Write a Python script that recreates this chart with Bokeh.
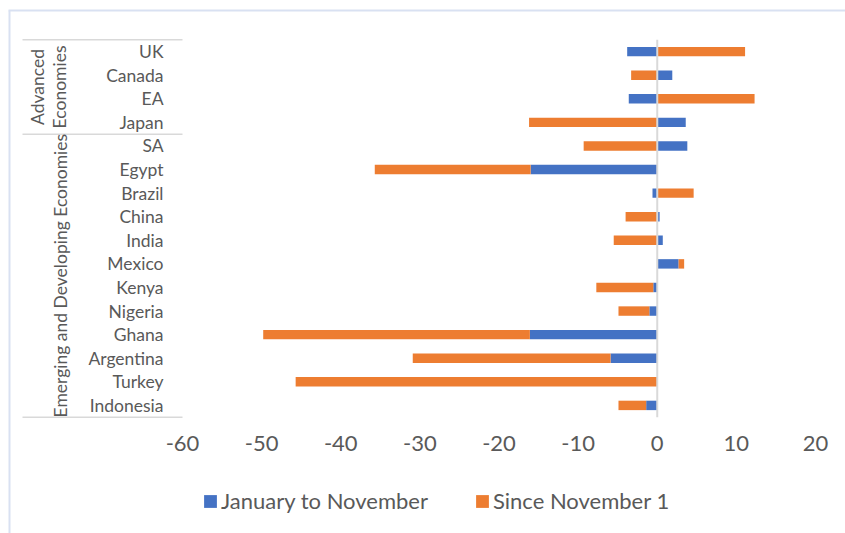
import math
import numpy as np
from bokeh.plotting import figure
from bokeh.models import Range1d, FixedTicker, Legend, LegendItem, ColumnDataSource
from bokeh.core.properties import value
from bokeh.embed import file_html
from bokeh.resources import INLINE

# ---- data (top to bottom) ----
countries = ["UK", "Canada", "EA", "Japan", "SA", "Egypt", "Brazil", "China", "India",
             "Mexico", "Kenya", "Nigeria", "Ghana", "Argentina", "Turkey", "Indonesia"]
jan_to_nov = [-3.8, 1.9, -3.6, 3.6, 3.8, -16.0, -0.6, 0.3, 0.7,
              2.7, -0.5, -1.0, -16.1, -5.9, 0.0, -1.4]
since_nov1 = [11.1, -3.3, 12.3, -16.2, -9.3, -19.7, 4.6, -4.0, -5.5,
              0.7, -7.2, -3.9, -33.7, -25.0, -45.7, -3.5]
x_ticks = [-60, -50, -40, -30, -20, -10, 0, 10, 20]
group_labels = [["Advanced", "Economies"], ["Emerging and Developing Economies"]]
group_sizes = [4, 12]
series_names = ["January to November", "Since November 1"]

BLUE = "#4472C4"
ORANGE = "#ED7D31"
TXT = "#595959"
FONT = "Lato"

W, H = 845, 533
# plot-area geometry in pixels (layout only)
PL, PR, PT, PB = 182.0, 815.0, 39.3, 416.7
XMIN, XMAX = x_ticks[0], x_ticks[-1]
n = len(countries)
YMIN, YMAX = -0.5, n - 0.5
sx = (PR - PL) / (XMAX - XMIN)
sy = (PB - PT) / (YMAX - YMIN)


def px2x(px):
    return XMIN + (px - PL) / sx


def py2y(py):
    return YMAX - (py - PT) / sy


ypos = [n - 1 - i for i in range(n)]  # UK at top

# Excel-like stacking: positives stack right of 0, negatives left of 0
pos_base = np.zeros(n)
neg_base = np.zeros(n)
stacks = []
for vals in (jan_to_nov, since_nov1):
    v = np.array(vals, dtype=float)
    left = np.where(v >= 0, pos_base, neg_base + v)
    right = np.where(v >= 0, pos_base + v, neg_base)
    pos_base = np.where(v >= 0, pos_base + v, pos_base)
    neg_base = np.where(v < 0, neg_base + v, neg_base)
    stacks.append((left, right))

p = figure(width=W, height=H, output_backend="svg", toolbar_location=None,
           x_range=Range1d(px2x(0), px2x(W)), y_range=Range1d(py2y(H), py2y(0)),
           min_border=0, min_border_left=0, min_border_right=0,
           min_border_top=0, min_border_bottom=0)
p.outline_line_color = None
p.xgrid.visible = False
p.ygrid.visible = False
p.background_fill_color = "white"
p.border_fill_color = "white"

# chart-area border (light blue, left and top)
p.segment(x0=[px2x(9), px2x(8)], y0=[py2y(10), py2y(10)],
          x1=[px2x(9), px2x(W)], y1=[py2y(H), py2y(10)],
          line_color="#d9e1f2", line_width=2)

renderers = []
for (left, right), color in zip(stacks, [BLUE, ORANGE]):
    src = ColumnDataSource(dict(y=ypos, left=left, right=right))
    r = p.hbar(y="y", left="left", right="right", height=0.4, source=src,
               fill_color=color, line_color=None)
    renderers.append(r)

# zero axis line
p.segment(x0=[0], y0=[YMIN], x1=[0], y1=[YMAX], line_color="#d9d9d9", line_width=2)

# group divider lines in the label area
boundaries = [YMAX]
acc = YMAX
for s in group_sizes:
    acc -= s
    boundaries.append(acc)
p.segment(x0=[px2x(22)] * len(boundaries), y0=boundaries,
          x1=[XMIN] * len(boundaries), y1=boundaries,
          line_color="#d9d9d9", line_width=1.5)

# rotated group labels
adv_center = (boundaries[0] + boundaries[1]) / 2
emg_center = (boundaries[1] + boundaries[2]) / 2
p.text(x=[px2x(37), px2x(59), px2x(60)],
       y=[adv_center, adv_center, emg_center],
       text=[group_labels[0][0], group_labels[0][1], group_labels[1][0]],
       angle=math.pi / 2, text_align="center", text_baseline="middle",
       text_font=value(FONT), text_font_size=value("17.5px"), text_color=TXT)

# x axis (fixed at bottom of plot area)
xa = p.xaxis[0]
xa.fixed_location = YMIN
xa.ticker = FixedTicker(ticks=x_ticks)
xa.major_label_overrides = {t: str(t) for t in x_ticks}
xa.axis_line_color = None
xa.major_tick_line_color = None
xa.minor_tick_line_color = None
xa.major_tick_out = 0
xa.major_tick_in = 0
xa.major_label_standoff = 19
xa.major_label_text_font = FONT
xa.major_label_text_font_size = "22px"
xa.major_label_text_color = TXT

# y axis with country labels (fixed at left of plot area)
ya = p.yaxis[0]
ya.fixed_location = XMIN
ya.ticker = FixedTicker(ticks=ypos)
ya.major_label_overrides = {y: c for y, c in zip(ypos, countries)}
ya.axis_line_color = None
ya.major_tick_line_color = None
ya.minor_tick_line_color = None
ya.major_tick_out = 0
ya.major_tick_in = 0
ya.major_label_standoff = 19
ya.major_label_text_font = FONT
ya.major_label_text_font_size = "17.5px"
ya.major_label_text_color = TXT

legend = Legend(items=[LegendItem(label=nm, renderers=[r]) for nm, r in zip(series_names, renderers)],
                orientation="horizontal", location=(202, 19),
                label_text_font=FONT, label_text_font_size="22px", label_text_color=TXT,
                glyph_width=16, glyph_height=16, label_standoff=3, spacing=46,
                padding=0, margin=0, border_line_color=None, background_fill_alpha=0)
p.add_layout(legend)

open("out.html", "w").write(file_html(p, INLINE))
